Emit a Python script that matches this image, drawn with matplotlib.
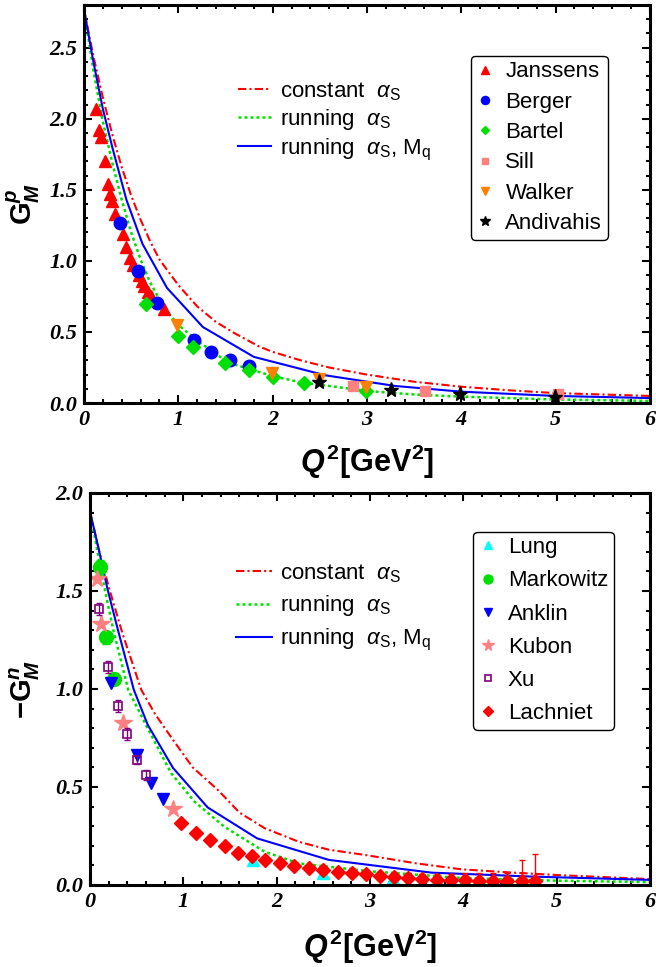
import numpy as np
import matplotlib.pyplot as plt
from matplotlib.ticker import MultipleLocator
from matplotlib.font_manager import FontProperties

plt.rcParams['font.family'] = ['Liberation Sans', 'DejaVu Sans']
plt.rcParams['mathtext.fontset'] = 'custom'
plt.rcParams['mathtext.rm'] = 'Liberation Sans'
plt.rcParams['mathtext.it'] = 'Liberation Sans:italic'
plt.rcParams['mathtext.bf'] = 'Liberation Sans:bold'
plt.rcParams['mathtext.bfit'] = 'Liberation Sans:italic:bold'

# ---- proton G_M^p : theory curves ----
p_const_x = [0, 0.1, 0.2, 0.3, 0.4, 0.5, 0.6, 0.7, 0.8, 1.0, 1.2, 1.4, 1.6, 1.85, 2.0, 2.3, 2.6, 3.0, 3.5, 4.0, 4.5, 5.0, 5.5, 6.0]
p_const_y = [2.77, 2.44, 2.15, 1.89, 1.66, 1.46, 1.29, 1.14, 1.01, 0.83, 0.68, 0.57, 0.49, 0.40, 0.36, 0.30, 0.25, 0.20, 0.15, 0.115, 0.09, 0.07, 0.06, 0.05]
p_run_x = [0, 0.1, 0.2, 0.3, 0.4, 0.5, 0.6, 0.7, 0.85, 1.0, 1.2, 1.43, 1.6, 1.85, 2.0, 2.3, 2.6, 3.0, 3.5, 4.0, 5.0, 6.0]
p_run_y = [2.77, 2.34, 1.98, 1.69, 1.43, 1.20, 1.01, 0.85, 0.67, 0.55, 0.44, 0.33, 0.27, 0.22, 0.19, 0.145, 0.12, 0.085, 0.06, 0.045, 0.025, 0.015]
p_mq_x = [0, 0.1, 0.2, 0.3, 0.45, 0.62, 0.88, 1.26, 1.8, 2.56, 3.3, 4.0, 5.0, 6.0]
p_mq_y = [2.77, 2.40, 2.07, 1.80, 1.43, 1.12, 0.81, 0.535, 0.325, 0.195, 0.12, 0.08, 0.05, 0.035]

# ---- proton data ----
jan_x = [0.13, 0.16, 0.18, 0.22, 0.26, 0.28, 0.30, 0.33, 0.41, 0.45, 0.49, 0.52, 0.58, 0.61, 0.64, 0.68, 0.71, 0.85]
jan_y = [2.07, 1.92, 1.87, 1.70, 1.54, 1.47, 1.42, 1.33, 1.19, 1.10, 1.02, 0.97, 0.90, 0.86, 0.82, 0.78, 0.75, 0.665]
ber_x = [0.38, 0.57, 0.77, 1.17, 1.35, 1.55, 1.75]
ber_y = [1.27, 0.93, 0.705, 0.445, 0.36, 0.305, 0.26]
bar_x = [0.66, 1.0, 1.16, 1.50, 1.75, 2.0, 2.33, 2.99]
bar_y = [0.695, 0.47, 0.395, 0.283, 0.232, 0.185, 0.143, 0.084]
sil_x = [2.85, 3.61, 5.03]
sil_y = [0.12, 0.084, 0.063]
wal_x = [0.99, 1.99, 2.49, 2.99]
wal_y = [0.55, 0.21, 0.166, 0.115]
and_x = [2.49, 3.25, 3.99, 4.99]
and_y = [0.145, 0.09, 0.061, 0.04]

# ---- neutron -G_M^n : theory curves ----
n_const_x = [0, 0.1, 0.21, 0.35, 0.55, 0.7, 0.89, 1.1, 1.37, 1.6, 1.87, 2.24, 2.56, 2.95, 3.5, 3.98, 4.5, 5.0, 6.0]
n_const_y = [1.905, 1.70, 1.505, 1.28, 0.995, 0.87, 0.74, 0.60, 0.485, 0.37, 0.29, 0.22, 0.18, 0.153, 0.11, 0.08, 0.064, 0.051, 0.03]
n_run_x = [0, 0.08, 0.16, 0.25, 0.41, 0.59, 0.87, 1.12, 1.44, 1.87, 2.24, 2.56, 3.0, 4.0, 5.0, 6.0]
n_run_y = [1.905, 1.70, 1.505, 1.30, 0.995, 0.825, 0.57, 0.425, 0.297, 0.17, 0.11, 0.093, 0.07, 0.035, 0.022, 0.015]
n_mq_x = [0, 0.1, 0.19, 0.3, 0.47, 0.62, 0.89, 1.26, 1.79, 2.56, 3.66, 4.73, 6.0]
n_mq_y = [1.905, 1.70, 1.505, 1.30, 0.995, 0.816, 0.597, 0.396, 0.238, 0.128, 0.063, 0.043, 0.026]

# ---- neutron data ----
lung_x = [1.75, 2.5, 3.25, 4.0]
lung_y = [0.13, 0.06, 0.035, 0.012]
mark_x = [0.107, 0.17, 0.26]
mark_y = [1.62, 1.263, 1.05]
mark_err = [0.04, 0.035, 0.03]
ank_x = [0.22, 0.50, 0.65, 0.78]
ank_y = [1.03, 0.663, 0.52, 0.44]
kub_x = [0.07, 0.115, 0.35, 0.89]
kub_y = [1.56, 1.33, 0.825, 0.386]
xu_x = [0.096, 0.195, 0.30, 0.40, 0.50, 0.60]
xu_y = [1.41, 1.113, 0.913, 0.77, 0.64, 0.56]
xu_err = [0.03, 0.03, 0.03, 0.03, 0.025, 0.025]
lach_x = [0.98, 1.14, 1.29, 1.45, 1.59, 1.74, 1.88, 2.04, 2.19, 2.35, 2.50, 2.66, 2.81,
          2.96, 3.11, 3.26, 3.41, 3.56, 3.72, 3.87, 4.02, 4.17, 4.32, 4.47, 4.63, 4.77]
lach_y = [0.318, 0.267, 0.23, 0.198, 0.165, 0.148, 0.13, 0.11, 0.097, 0.085, 0.075, 0.068, 0.059,
          0.056, 0.047, 0.042, 0.037, 0.032, 0.028, 0.026, 0.025, 0.022, 0.021, 0.02, 0.02, 0.02]
lach_err = [0.01, 0.01, 0.01, 0.01, 0.01, 0.01, 0.01, 0.012, 0.012, 0.012, 0.015, 0.015, 0.015,
            0.018, 0.02, 0.02, 0.022, 0.025, 0.028, 0.03, 0.035, 0.038, 0.04, 0.043, 0.11, 0.14]

curve_labels = [r'constant  $\alpha_{\rm S}$', r'running  $\alpha_{\rm S}$', r'running  $\alpha_{\rm S}$, M$_{\rm q}$']
xlabel = r'$\mathbfit{Q}^{\,\mathbf{2}}\mathbf{[GeV}^{\mathbf{2}}\mathbf{]}$'

tick_font = FontProperties(family='Liberation Serif', weight='bold', style='italic', size=16)

fig = plt.figure(figsize=(6.56, 9.67), dpi=100)
ax1 = fig.add_axes([0.128, 0.5832, 0.8628, 0.4116])
ax2 = fig.add_axes([0.1372, 0.0848, 0.8536, 0.4054])


def style_axes(ax, ymax):
    ax.set_xlim(0, 6)
    ax.set_ylim(0, ymax)
    ax.xaxis.set_major_locator(MultipleLocator(1))
    ax.xaxis.set_minor_locator(MultipleLocator(0.2))
    ax.yaxis.set_major_locator(MultipleLocator(0.5))
    ax.yaxis.set_minor_locator(MultipleLocator(0.1))
    ax.tick_params(which='both', direction='in', top=True, right=True, width=1.5)
    ax.tick_params(which='major', length=6)
    ax.tick_params(which='minor', length=3)
    ax.tick_params(axis='x', pad=5)
    ax.tick_params(axis='y', pad=5)
    for s in ax.spines.values():
        s.set_linewidth(2.2)
    ax.xaxis.set_major_formatter(plt.FuncFormatter(lambda v, p: f'{v:.0f}'))
    ax.yaxis.set_major_formatter(plt.FuncFormatter(lambda v, p: f'{v:.1f}'))
    for lab in ax.get_xticklabels() + ax.get_yticklabels():
        lab.set_fontproperties(tick_font)
    ax.set_xlabel(xlabel, fontsize=22)


# ---------------- top panel ----------------
style_axes(ax1, 2.8)
l1, = ax1.plot(p_const_x, p_const_y, color='red', ls=(0, (4, 1.5, 1, 1.5)), lw=1.5)
l2, = ax1.plot(p_run_x, p_run_y, color='#00e000', ls=(0, (1.2, 1.2)), lw=1.8)
l3, = ax1.plot(p_mq_x, p_mq_y, color='#0000ff', ls='-', lw=1.5)

m1, = ax1.plot(jan_x, jan_y, '^', color='red', ms=8, ls='none')
m2, = ax1.plot(ber_x, ber_y, 'o', color='#0000ff', ms=9, ls='none')
m3, = ax1.plot(bar_x, bar_y, 'D', color='#00e000', ms=7, ls='none')
m4, = ax1.plot(sil_x, sil_y, 's', color='#ff8080', ms=7, ls='none')
m5, = ax1.plot(wal_x, wal_y, 'v', color='#ff8000', ms=8, ls='none')
m6, = ax1.plot(and_x, and_y, '*', color='black', ms=11, ls='none')

ax1.set_ylabel(r'$\mathbf{G}_{\mathbfit{M}}^{\mathbfit{p}}$', fontsize=21)
ax1.yaxis.set_label_coords(-0.075, 0.5)
ax1.xaxis.set_label_coords(0.5, -0.1)

leg_l = ax1.legend([l1, l2, l3], curve_labels,
                   loc='upper left', bbox_to_anchor=(0.237, 0.862), frameon=False, fontsize=16,
                   handlelength=1.5, handletextpad=0.4, labelspacing=0.2)
ax1.add_artist(leg_l)
ax1.legend([m1, m2, m3, m4, m5, m6], ['Janssens', 'Berger', 'Bartel', 'Sill', 'Walker', 'Andivahis'],
           loc='upper right', bbox_to_anchor=(0.945, 0.9), fontsize=16, markerscale=0.65,
           handlelength=0.8, handletextpad=0.5, labelspacing=0.42, borderpad=0.25,
           fancybox=True, framealpha=1, edgecolor='black')

# ---------------- bottom panel ----------------
style_axes(ax2, 2.0)
k1, = ax2.plot(n_const_x, n_const_y, color='red', ls=(0, (4, 1.5, 1, 1.5)), lw=1.5)
k2, = ax2.plot(n_run_x, n_run_y, color='#00e000', ls=(0, (1.2, 1.2)), lw=1.8)
k3, = ax2.plot(n_mq_x, n_mq_y, color='#0000ff', ls='-', lw=1.5)

q1, = ax2.plot(lung_x, lung_y, '^', color='#00ffff', ms=8, ls='none')
ax2.errorbar(mark_x, mark_y, yerr=mark_err, fmt='none', ecolor='#00e000', elinewidth=1, capsize=3)
q2, = ax2.plot(mark_x, mark_y, 'o', color='#00e000', ms=10, ls='none')
q3, = ax2.plot(ank_x, ank_y, 'v', color='#0000ff', ms=8, ls='none')
q4, = ax2.plot(kub_x, kub_y, '*', color='#ff8080', ms=13, ls='none')
ax2.errorbar(xu_x, xu_y, yerr=xu_err, fmt='none', ecolor='#800080', elinewidth=1, capsize=2.5)
q5, = ax2.plot(xu_x, xu_y, 's', mfc='none', mec='#800080', mew=1.2, ms=6, ls='none')
ax2.errorbar(lach_x, lach_y, yerr=lach_err, fmt='none', ecolor='red', elinewidth=1, capsize=2.5)
q6, = ax2.plot(lach_x, lach_y, 'D', color='red', ms=7.5, ls='none')

ax2.set_ylabel(r'$\mathbf{-G}_{\mathbfit{M}}^{\mathbfit{n}}$', fontsize=21)
ax2.yaxis.set_label_coords(-0.085, 0.5)
ax2.xaxis.set_label_coords(0.5, -0.108)

leg_n = ax2.legend([k1, k2, k3], curve_labels,
                   loc='upper left', bbox_to_anchor=(0.225, 0.875), frameon=False, fontsize=16,
                   handlelength=1.6, handletextpad=0.4, labelspacing=0.4)
ax2.add_artist(leg_n)
ax2.legend([q1, q2, q3, q4, q5, q6], ['Lung', 'Markowitz', 'Anklin', 'Kubon', 'Xu', 'Lachniet'],
           loc='upper right', bbox_to_anchor=(0.955, 0.93), fontsize=16, markerscale=0.65,
           handlelength=0.8, handletextpad=0.5, labelspacing=0.55, borderpad=0.25,
           fancybox=True, framealpha=1, edgecolor='black')

fig.savefig('out.png', dpi=100)
